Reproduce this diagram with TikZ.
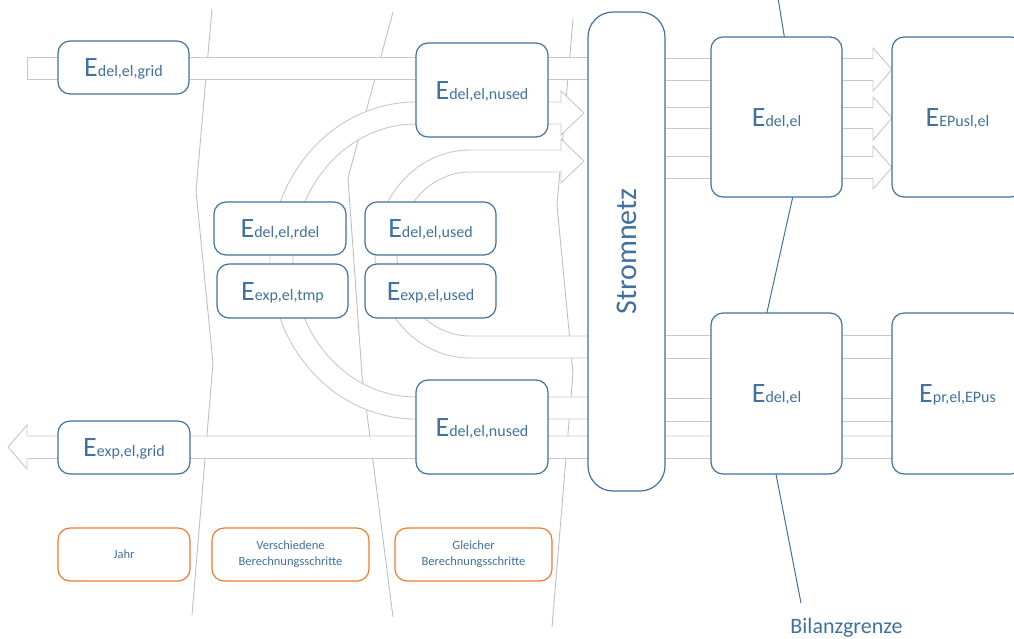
\documentclass[tikz,border=0pt]{standalone}
\usepackage{fontspec}
\setmainfont{Carlito}
\usetikzlibrary{calc}
\definecolor{bblue}{RGB}{65,113,156}
\definecolor{oorange}{RGB}{237,125,49}
\definecolor{lgray}{RGB}{191,191,191}
\definecolor{agray}{RGB}{200,200,200}
\newcommand{\EE}[1]{{\fontsize{28}{28}\selectfont E}{\fontsize{16}{16}\selectfont #1}}
\begin{document}
\begin{tikzpicture}[x=1pt,y=-1pt,
  box/.style={draw=bblue,line width=1.2pt,fill=white,rounded corners=12pt,text=bblue,inner sep=0pt,text height=18pt,text depth=0pt,align=center},
  obox/.style={draw=oorange,line width=1.2pt,fill=white,rounded corners=12pt,text=bblue,inner sep=0pt,align=center,font=\fontsize{12.5}{16}\selectfont},
  divline/.style={draw=lgray,line width=0.9pt},
  flow/.style={draw=agray,line width=0.9pt,fill=white},
  bline/.style={draw=bblue,line width=1pt}
]
\useasboundingbox (0,0) rectangle (1014,638);
\clip (0,0) rectangle (1014,638);
% dividing lines
\draw[divline] (212,9) -- (196,191) -- (213,363) -- (192,615);
\draw[divline] (393,12) -- (348,178) -- (362,375) -- (393,617);
\draw[divline] (573,19) -- (557,205) -- (573,373) -- (552,627);
% balance boundary
\draw[bline] (778,-2) -- (803,151) -- (755,366) -- (801,603);
% flows
\draw[flow] (27,57.5) rectangle (600,79.5);
\draw[flow] (600,397) -- (416,397) arc[start angle=270,end angle=90,x radius=123pt,y radius=136.5pt] -- (561,124) -- (561,135) -- (584,113) -- (561,91) -- (561,102) -- (416,102) arc[start angle=90,end angle=270,x radius=146pt,y radius=158.5pt] -- (600,419) -- cycle;
\draw[flow] (600,336) -- (470,336) arc[start angle=270,end angle=90,x radius=73pt,y radius=82pt] -- (561,172) -- (561,183) -- (584,161) -- (561,139) -- (561,150) -- (470,150) arc[start angle=90,end angle=270,x radius=95pt,y radius=104pt] -- (600,358) -- cycle;
\draw[flow] (900,436) -- (27,436) -- (27,425) -- (8,447) -- (27,469) -- (27,458.5) -- (900,458.5) -- cycle;
\draw[flow] (640,335.5) rectangle (900,358.5);
\draw[flow] (640,398.5) rectangle (900,421.5);
\draw[flow] (640,58.5) -- (873,58.5) -- (873,48) -- (892,69.5) -- (873,91) -- (873,80.5) -- (640,80.5) -- cycle;
\draw[flow] (640,107.5) -- (873,107.5) -- (873,97) -- (892,118) -- (873,140) -- (873,128.5) -- (640,128.5) -- cycle;
\draw[flow] (640,156.5) -- (873,156.5) -- (873,146) -- (892,167.5) -- (873,189) -- (873,178.5) -- (640,178.5) -- cycle;
% boxes
\node[box,minimum width=131pt,minimum height=53pt] (grid) at (123.5,67.5) {\EE{del,el,grid}};
\node[box,minimum width=132pt,minimum height=94pt] (nusedT) at (482,90) {\EE{del,el,nused}};
\node[box,minimum width=132pt,minimum height=53pt] (rdel) at (280,228.5) {\EE{del,el,rdel}};
\node[box,minimum width=131pt,minimum height=54pt] (tmp) at (282.5,291) {\EE{exp,el,tmp}};
\node[box,minimum width=131pt,minimum height=53pt] (used) at (430.5,228.5) {\EE{del,el,used}};
\node[box,minimum width=131pt,minimum height=54pt] (expused) at (430.5,291) {\EE{exp,el,used}};
\node[box,minimum width=132pt,minimum height=94pt] (nusedB) at (482,427) {\EE{del,el,nused}};
\node[box,minimum width=132pt,minimum height=53pt] (expgrid) at (124,447.5) {\EE{exp,el,grid}};
\node[box,rotate=90,minimum width=479pt,minimum height=77pt,rounded corners=25pt,font=\fontsize{30}{30}\selectfont,text height=19pt] (netz) at (626.5,251.5) {Stromnetz};
\node[box,minimum width=131pt,minimum height=160pt] (delT) at (776.5,117) {\EE{del,el}};
\node[box,minimum width=131pt,minimum height=160pt] (epusl) at (957.5,117) {\EE{EPusl,el}};
\node[box,minimum width=131pt,minimum height=161pt] (delB) at (776.5,393.5) {\EE{del,el}};
\node[box,minimum width=131pt,minimum height=161pt] (epr) at (957.5,393.5) {\EE{pr,el,EPus}};
\node[obox,minimum width=132pt,minimum height=53pt] (jahr) at (124,554.5) {Jahr};
\node[obox,minimum width=157pt,minimum height=53pt] (versch) at (290.5,554.5) {Verschiedene\\Berechnungsschritte};
\node[obox,minimum width=157pt,minimum height=53pt] (gleich) at (473.5,554.5) {Gleicher\\Berechnungsschritte};
\node[text=bblue,font=\fontsize{22}{22}\selectfont,anchor=base,inner sep=0pt] (bil) at (846.5,633) {Bilanzgrenze};
\end{tikzpicture}
\end{document}
